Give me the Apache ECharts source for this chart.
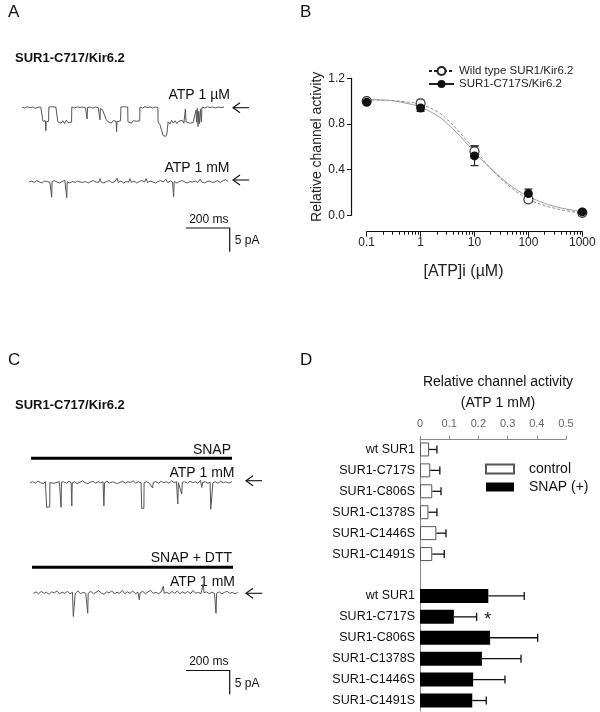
<!DOCTYPE html>
<html><head><meta charset="utf-8">
<script src="https://cdn.jsdelivr.net/npm/echarts@6/dist/echarts.min.js"></script>
<style>html,body{margin:0;padding:0;background:#fff}#c{width:600px;height:712px}</style>
</head><body><div id="c"></div>
<script>
// ---------- Panel B : dose-response ----------
const atpConc = [0.1, 1, 10, 100, 1000];
const wtMean = [1.0, 0.98, 0.56, 0.14, 0.022];
const wtErr = [0.01, 0.03, 0.05, 0.025, 0.01];
const c717Mean = [0.99, 0.94, 0.52, 0.19, 0.03];
const c717Err = [0.01, 0.03, 0.085, 0.04, 0.01];
const fitConc = [0.1, 0.2, 0.5, 1, 2, 3, 5, 7, 10, 15, 20, 30, 50, 70, 100, 200, 300, 500, 1000];
const wtFit = [1.01, 1.008, 0.995, 0.97, 0.91, 0.845, 0.74, 0.66, 0.58, 0.48, 0.41, 0.325, 0.235, 0.185, 0.14, 0.085, 0.063, 0.04, 0.02];
const c717Fit = [1.015, 1.01, 0.985, 0.945, 0.875, 0.81, 0.71, 0.635, 0.555, 0.465, 0.41, 0.335, 0.25, 0.205, 0.165, 0.105, 0.08, 0.055, 0.033];
const minorTickConc = [0.2,0.3,0.4,0.5,0.6,0.7,0.8,0.9,2,3,4,5,6,7,8,9,20,30,40,50,60,70,80,90,200,300,400,500,600,700,800,900];

// ---------- Panel D : bars ----------
const mutants = ['wt SUR1', 'SUR1-C717S', 'SUR1-C806S', 'SUR1-C1378S', 'SUR1-C1446S', 'SUR1-C1491S'];
const controlMean = [0.031, 0.035, 0.042, 0.029, 0.056, 0.042];
const controlErr = [0.027, 0.033, 0.030, 0.029, 0.033, 0.041];
const snapMean = [0.234, 0.116, 0.240, 0.212, 0.182, 0.179];
const snapErr = [0.123, 0.078, 0.163, 0.134, 0.109, 0.048];
const snapSig = ['', '*', '', '', '', ''];

// ---------- Panels A, C : current traces [ms, pA] ----------
const traceATP1uM = [[9,0.1],[20,-0.1],[32,0.15],[45,0],[58,0.1],[70,-0.15],[82,0.05],[95,0.1],[104,-0.1],
[105,-2.9],[110,-3.1],[116,-2.8],[118,-4.9],[120,-3.0],[126,-3.2],[131,-2.9],
[132,0.1],[140,-0.1],[148,0.15],[156,0],[164,0.1],[172,-0.1],
[173,-3.0],[180,-2.6],[188,-3.3],[196,-2.8],[204,-3.4],[212,-2.7],[220,-3.2],[228,-2.9],[236,-3.1],
[237,0.1],[250,-0.1],[262,0.15],[275,0],[288,0.1],[300,-0.1],[306,0.05],[307,-2.4],[309,0],[320,0.1],[332,-0.1],[345,0.1],[358,0],[365,0.1],[366,-2.6],[368,-0.2],[378,-0.5],[386,-0.8],
[394,-2.5],[402,-3.0],[410,-2.7],[418,-3.3],[426,-2.8],[434,-3.1],[440,-2.9],[442,-5.1],[444,-3.0],[452,-3.3],[460,-2.8],
[462,0.1],[470,-0.1],[478,0.15],[486,0],[493,0.1],
[494,-3.0],[502,-2.7],[510,-3.3],[518,-2.8],[526,-3.2],[534,-2.9],[542,-3.1],[548,-2.8],
[549,0.1],[560,-0.1],[572,0.15],[584,0],[596,0.1],[608,-0.1],[620,0.1],[631,0],
[632,-3.0],[640,-3.6],[648,-4.8],[655,-5.9],[660,-5.5],[666,-6.1],[672,-5.6],[677,-5.8],
[678,-3.0],[686,-3.5],[694,-2.7],[702,-3.3],[710,-2.8],[718,-3.4],[726,-2.9],[734,-3.2],[742,-2.7],[750,-3.3],[757,-0.3],[760,-3.0],[768,-2.8],[776,-3.3],[784,-2.9],[792,-3.2],[800,-2.8],[806,-0.5],[808,-3.1],[812,-0.2],[815,-4.0],[818,-0.8],[822,-3.4],[826,-0.3],[830,-3.0],
[833,0.1],[845,-0.1],[858,0.15],[870,0],[882,0.1],[895,-0.1],[908,0.1],[920,0],[934,0.1]];

const traceATP1mM = [[41,0],[53,0.2],[65,-0.1],[77,0.3],[89,0],[101,-0.2],[113,0.2],[125,0.1],[137,-0.1],[143,0.1],[145,-3.2],[147,0.1],[157,0.3],[169,0],[181,-0.2],[193,0.1],[205,0.4],[212,0.1],[214,-3.3],[216,0],[228,-0.2],[240,0.1],[252,-0.1],[264,0.2],[276,0],[288,-0.1],[300,0.1],[312,-0.2],[324,0.1],[336,0.3],[348,0],[360,-0.1],[366,0.7],[372,0],[384,-0.2],[396,0.1],[408,0.3],[420,-0.1],[432,0],[444,0.8],[450,-0.1],[462,0.2],[474,-0.2],[486,0.1],[498,0],[503,0.7],[510,-0.1],[522,0.2],[534,-0.2],[546,0.1],[558,0.3],[570,0],[577,0.7],[584,-0.1],[596,0.2],[608,0],[620,-0.2],[632,0.1],[644,0.3],[656,0],[668,0.6],[676,-0.1],[688,0.2],[698,0],[703,-3.1],[706,0.1],[718,-0.2],[730,0.1],[742,0.3],[754,0],[766,-0.2],[778,0.1],[790,0],[802,0.2],[814,-0.1],[824,0.6],[832,0],[844,-0.2],[856,0.1],[868,0.2],[880,-0.1],[892,0],[904,0.3],[916,-0.1],[928,0.2],[940,0.5],[952,0.1]];

const traceSNAP = [[46,0],[58,0.2],[70,-0.1],[82,0.3],[94,0],[106,-0.2],[116,0.2],[121,0],[122,-5.2],[126,-5.0],[131,-5.3],[136,-5.1],[137,0],[146,0.3],[158,-0.1],[170,0.1],[180,0.2],[186,0],[188,-5.2],[190,0.1],[200,0.2],[212,-0.1],[224,0.3],[234,0],[237,-4.9],[239,0],[250,0.2],[262,-0.2],[274,0.1],[286,0.4],[298,0],[310,-0.2],[322,0.1],[334,0.3],[346,-0.1],[358,0.2],[370,0],[380,0.2],[384,-4.9],[387,0],[398,0.3],[410,-0.1],[422,0.2],[434,0],[446,-0.2],[458,0.1],[470,0.3],[482,-0.1],[494,0.2],[506,0],[518,0.4],[530,-0.1],[542,0.2],[554,0],[557,-5.4],[562,-5.2],[567,-5.4],[568,0],[580,0.2],[592,-0.1],[600,0.3],[607,-1.1],[610,0.1],[622,0.2],[634,-0.1],[646,0.3],[658,0],[670,0.2],[682,-0.1],[694,0.4],[706,0],[716,0.2],[722,-4.5],[725,0],[734,0.3],[740,-2.4],[743,0.1],[754,0.2],[766,-0.1],[778,0.3],[790,0],[802,0.2],[814,-0.1],[826,0.5],[832,-1.0],[836,0.1],[848,0.2],[860,-0.1],[870,0.1],[873,-5.6],[878,-5.4],[882,-5.6],[883,0],[894,0.2],[906,-0.1],[918,0.3],[930,0],[942,0.2],[954,-0.1],[970,0.2]];

const traceSNAPDTT = [[61,0],[73,0.3],[85,-0.1],[97,0.4],[109,0],[121,0.2],[133,-0.2],[145,0.3],[157,0.1],[169,0.5],[181,-0.1],[193,0.2],[205,0],[217,0.4],[229,-0.1],[240,0.2],[244,-4.9],[248,-4.7],[252,-4.9],[253,0],[265,0.5],[277,-0.1],[289,0.2],[301,0],[308,0.2],[310,-4.2],[312,0],[324,0.4],[336,-0.1],[348,0.2],[360,0.6],[372,0],[384,-0.2],[396,0.3],[408,0.1],[420,0.5],[432,-0.1],[444,0.2],[456,0],[468,0.6],[480,-0.1],[492,0.3],[504,0],[516,0.5],[528,-0.1],[540,0.2],[546,-1.4],[550,0.1],[562,0.4],[574,-0.1],[586,0.3],[598,0.6],[610,0],[622,0.2],[634,-0.1],[646,0.3],[656,1.5],[660,0],[672,0.2],[684,-0.1],[696,0.4],[708,0],[720,0.5],[732,-0.1],[744,0.3],[756,0],[768,0.4],[780,-0.1],[792,0.6],[804,0],[816,0.2],[828,-0.1],[839,2.0],[842,0.1],[854,0.3],[866,-0.1],[878,0.2],[890,0],[897,-4.2],[900,0],[912,0.3],[924,-0.1],[936,0.2],[948,0.4],[960,0],[972,0.2],[984,-0.1],[996,0.2]];

const scaleBarMs = 200, scaleBarPA = 5;

// ---------- layout ----------
const FONT = 'Liberation Sans, Arial, sans-serif';
const PX_PER_MS = 43.7 / 200, PX_PER_PA = 23.7 / 5;
const TR_LEFT = 20, TR_WIDTH = 240;
const traceLayout = [
  {data: traceATP1uM, top: 98, height: 42, base: 107.5},
  {data: traceATP1mM, top: 172, height: 30, base: 182},
  {data: traceSNAP, top: 472, height: 42, base: 482.7},
  {data: traceSNAPDTT, top: 580, height: 42, base: 593.3}
];

const grids = [], xAxes = [], yAxes = [], series = [];
traceLayout.forEach((t, i) => {
  grids.push({left: TR_LEFT, top: t.top, width: TR_WIDTH, height: t.height});
  xAxes.push({type: 'value', gridIndex: i, min: 0, max: TR_WIDTH / PX_PER_MS, show: false});
  yAxes.push({type: 'value', gridIndex: i, min: -(t.top + t.height - t.base) / PX_PER_PA, max: (t.base - t.top) / PX_PER_PA, show: false});
  series.push({type: 'line', xAxisIndex: i, yAxisIndex: i, data: t.data, showSymbol: false, silent: true,
    lineStyle: {color: '#555', width: 1}});
});

// Panel B grid (index 4): plotting area
const B_TOP = 78.3, B_H = 137;
grids.push({left: 366.7, top: B_TOP, width: 215.6, height: B_H});
xAxes.push({type: 'log', logBase: 10, gridIndex: 4, min: 0.1, max: 1000, position: 'bottom', offset: 16.4,
  axisLine: {onZero: false, lineStyle: {color: '#111', width: 1}},
  axisTick: {length: 5, lineStyle: {color: '#111'}},
  splitLine: {show: false},
  axisLabel: {fontFamily: FONT, fontSize: 12, color: '#222', margin: 5, formatter: v => String(+(+v).toPrecision(6))},
  name: '[ATP]i (µM)', nameLocation: 'middle', nameGap: 32,
  nameTextStyle: {fontFamily: FONT, fontSize: 16, color: '#222', padding: [0, 22, 0, 0]}});
xAxes.push({type: 'value', gridIndex: 4, min: -1, max: 3, position: 'bottom', offset: 16.4,
  axisLine: {show: false, onZero: false}, splitLine: {show: false}, axisLabel: {show: false},
  axisTick: {show: true, length: 3, lineStyle: {color: '#111'}, customValues: minorTickConc.map(v => Math.log10(v))}});
yAxes.push({type: 'value', gridIndex: 4, min: 0, max: 1.2, show: false});

// Panel D grid (index 5)
const catsD = [...mutants, '', ...mutants];
grids.push({left: 420, top: 439, width: 146, height: 272});
xAxes.push({type: 'value', gridIndex: 5, position: 'top', min: 0, max: 0.5, interval: 0.1,
  axisLine: {show: true, onZero: false, lineStyle: {color: '#888', width: 1}},
  axisTick: {show: true, length: 3, lineStyle: {color: '#888'}},
  splitLine: {show: false},
  axisLabel: {fontFamily: FONT, fontSize: 11, color: '#666', margin: 10}});
yAxes.push({type: 'category', gridIndex: 5, data: catsD, inverse: true,
  axisLine: {show: true, onZero: false, lineStyle: {color: '#888', width: 1}},
  axisTick: {show: false},
  axisLabel: {fontFamily: FONT, fontSize: 12.5, color: '#111', margin: 5, interval: 0}});

// Panel B detached y axis (grid index 6)
grids.push({left: 351, top: B_TOP, width: 12, height: B_H});
xAxes.push({type: 'value', gridIndex: 6, min: 0, max: 1, show: false});
yAxes.push({type: 'value', gridIndex: 6, min: 0, max: 1.2, interval: 0.4, position: 'left',
  axisLine: {show: true, onZero: false, lineStyle: {color: '#111', width: 1.2}},
  axisTick: {show: true, length: 4, lineStyle: {color: '#111', width: 1}},
  splitLine: {show: false},
  axisLabel: {fontFamily: FONT, fontSize: 12, color: '#222', margin: 6, formatter: v => v.toFixed(1)},
  name: 'Relative channel activity', nameLocation: 'middle', nameGap: 27,
  nameTextStyle: {fontFamily: FONT, fontSize: 14, color: '#222'}});

// Panel B series
function errBarSeries(name, means, errs, color, xi, yi) {
  return {type: 'custom', name, xAxisIndex: xi, yAxisIndex: yi, z: 3, silent: true,
    data: atpConc.map((c, i) => [c, means[i], errs[i]]),
    renderItem: (params, api) => {
      const c = api.value(0), m = api.value(1), e = api.value(2);
      const top = api.coord([c, m + e]), bot = api.coord([c, m - e]);
      const w = 4;
      const st = {stroke: color, lineWidth: 1.2};
      return {type: 'group', children: [
        {type: 'line', shape: {x1: top[0], y1: top[1], x2: bot[0], y2: bot[1]}, style: st},
        {type: 'line', shape: {x1: top[0] - w, y1: top[1], x2: top[0] + w, y2: top[1]}, style: st},
        {type: 'line', shape: {x1: bot[0] - w, y1: bot[1], x2: bot[0] + w, y2: bot[1]}, style: st}
      ]};
    }};
}
series.push({type: 'line', name: 'Wild type SUR1/Kir6.2', xAxisIndex: 4, yAxisIndex: 4, z: 2, smooth: true,
  data: fitConc.map((c, i) => [c, wtFit[i]]), showSymbol: false, symbol: 'circle', clip: false,
  itemStyle: {color: '#fff', borderColor: '#222', borderWidth: 1},
  lineStyle: {color: '#888', width: 1, type: [3, 2]}});
series.push({type: 'line', name: 'SUR1-C717S/Kir6.2', xAxisIndex: 4, yAxisIndex: 4, z: 2, smooth: true,
  data: fitConc.map((c, i) => [c, c717Fit[i]]), showSymbol: false, symbol: 'circle', clip: false,
  itemStyle: {color: '#111'},
  lineStyle: {color: '#999', width: 1}});
series.push(errBarSeries('wt err', wtMean, wtErr, '#444', 4, 4));
series.push({type: 'scatter', name: 'wt points', xAxisIndex: 4, yAxisIndex: 4, z: 4, symbol: 'circle', symbolSize: 9, clip: false,
  data: atpConc.map((c, i) => [c, wtMean[i]]),
  itemStyle: {color: '#fff', borderColor: '#333', borderWidth: 1.2, opacity: 1}});
series.push(errBarSeries('c717 err', c717Mean, c717Err, '#222', 4, 4));
series.push({type: 'scatter', name: 'c717 points', xAxisIndex: 4, yAxisIndex: 4, z: 5, symbol: 'circle', symbolSize: 9, clip: false,
  data: atpConc.map((c, i) => [c, c717Mean[i]]),
  itemStyle: {color: '#111', opacity: 1}});

// Panel D series
const gapFill = Array(7).fill('-');
series.push({type: 'bar', name: 'control', xAxisIndex: 6, yAxisIndex: 5, barWidth: 14, barGap: '-100%',
  data: [...controlMean, ...gapFill],
  itemStyle: {color: '#fff', borderColor: '#555', borderWidth: 1}});
series.push({type: 'bar', name: 'SNAP (+)', xAxisIndex: 6, yAxisIndex: 5, barWidth: 14, barGap: '-100%',
  data: [...gapFill, ...snapMean],
  itemStyle: {color: '#000'}});
function barErrSeries(name, means, errs, offset, sig) {
  return {type: 'custom', name, xAxisIndex: 6, yAxisIndex: 5, z: 4, silent: true,
    data: means.map((m, i) => [m, i + offset, errs[i]]),
    encode: {x: 0, y: 1},
    renderItem: (params, api) => {
      const m = api.value(0), c = api.value(1), e = api.value(2);
      const p0 = api.coord([m, c]), p1 = api.coord([m + e, c]);
      const st = {stroke: '#111', lineWidth: 1.3};
      const ch = [
        {type: 'line', shape: {x1: p0[0], y1: p0[1], x2: p1[0], y2: p1[1]}, style: st},
        {type: 'line', shape: {x1: p1[0], y1: p1[1] - 4, x2: p1[0], y2: p1[1] + 4}, style: st}
      ];
      const s = sig ? sig[params.dataIndex] : '';
      if (s) ch.push({type: 'text', x: p1[0] + 11, y: p1[1] + 3, style: {text: s, fontFamily: FONT, fontSize: 18, fill: '#222', align: 'center', verticalAlign: 'middle'}});
      return {type: 'group', children: ch};
    }};
}
series.push(barErrSeries('control err', controlMean, controlErr, 0, null));
series.push(barErrSeries('snap err', snapMean, snapErr, 7, snapSig));

// ---------- annotations ----------
const g = [];
function txt(text, x, y, size, align, opts) {
  g.push(Object.assign({type: 'text', x, y, style: Object.assign({text, fontFamily: FONT, fontSize: size, fill: '#111', align: align || 'left', verticalAlign: 'middle'}, opts || {})}));
}
function arrow(x, y) {
  const st = {stroke: '#111', lineWidth: 1.1, fill: null};
  g.push({type: 'line', shape: {x1: x, y1: y, x2: x + 16, y2: y}, style: st});
  g.push({type: 'polyline', shape: {points: [[x + 7, y - 5], [x, y], [x + 7, y + 5]]}, style: st});
}
function scaleBar(x, y) {
  const w = scaleBarMs * PX_PER_MS, h = scaleBarPA * PX_PER_PA;
  const st = {stroke: '#111', lineWidth: 1.2};
  g.push({type: 'polyline', shape: {points: [[x, y], [x + w, y], [x + w, y + h]]}, style: Object.assign({fill: null}, st)});
  txt(scaleBarMs + ' ms', x + w / 2 + 1, y - 8.5, 12, 'center');
  txt(scaleBarPA + ' pA', x + w + 5, y + 13, 12, 'left');
}
txt('A', 8, 12.5, 17);
txt('B', 300, 12.5, 17);
txt('C', 8, 360, 17);
txt('D', 300, 360, 17);
txt('SUR1-C717/Kir6.2', 15, 58, 13, 'left', {fontWeight: 'bold'});
txt('SUR1-C717/Kir6.2', 15, 405, 13, 'left', {fontWeight: 'bold'});
txt('ATP 1 µM', 230, 95, 14, 'right');
txt('ATP 1 mM', 229.5, 168.5, 14, 'right');
arrow(233, 107.7);
arrow(233, 180);
scaleBar(186, 228);
txt('SNAP', 231, 450, 14, 'right');
g.push({type: 'rect', shape: {x: 31, y: 456.8, width: 201, height: 3}, style: {fill: '#000'}});
txt('ATP 1 mM', 234.5, 472.7, 14, 'right');
arrow(246, 480.7);
txt('SNAP + DTT', 232, 558, 14, 'right');
g.push({type: 'rect', shape: {x: 32, y: 565.8, width: 201, height: 3}, style: {fill: '#000'}});
txt('ATP 1 mM', 235, 581.7, 14, 'right');
arrow(246, 593.3);
scaleBar(186, 670.5);
txt('Relative channel activity', 498, 382, 14, 'center');
txt('(ATP 1 mM)', 498, 403, 14, 'center');

const chart = echarts.init(document.getElementById('c'), null, {renderer: 'canvas'});
chart.setOption({
  animation: false,
  backgroundColor: '#fff',
  textStyle: {fontFamily: FONT},
  grid: grids, xAxis: xAxes, yAxis: yAxes, series,
  legend: [
    {data: ['Wild type SUR1/Kir6.2', 'SUR1-C717S/Kir6.2'], orient: 'vertical', left: 428, top: 65, padding: 0,
      itemWidth: 25, itemHeight: 10, itemGap: 1, selectedMode: false,
      lineStyle: {color: '#222'},
      textStyle: {fontFamily: FONT, fontSize: 11.5, color: '#222'}},
    {data: [{name: 'control', icon: 'rect'}, {name: 'SNAP (+)', icon: 'rect'}], orient: 'vertical', left: 485, top: 462, padding: 0,
      itemWidth: 28, itemHeight: 9, itemGap: 4, selectedMode: false,
      textStyle: {fontFamily: FONT, fontSize: 14, color: '#111', padding: [0, 0, 0, 10]}}
  ],
  graphic: g
});
</script></body></html>
